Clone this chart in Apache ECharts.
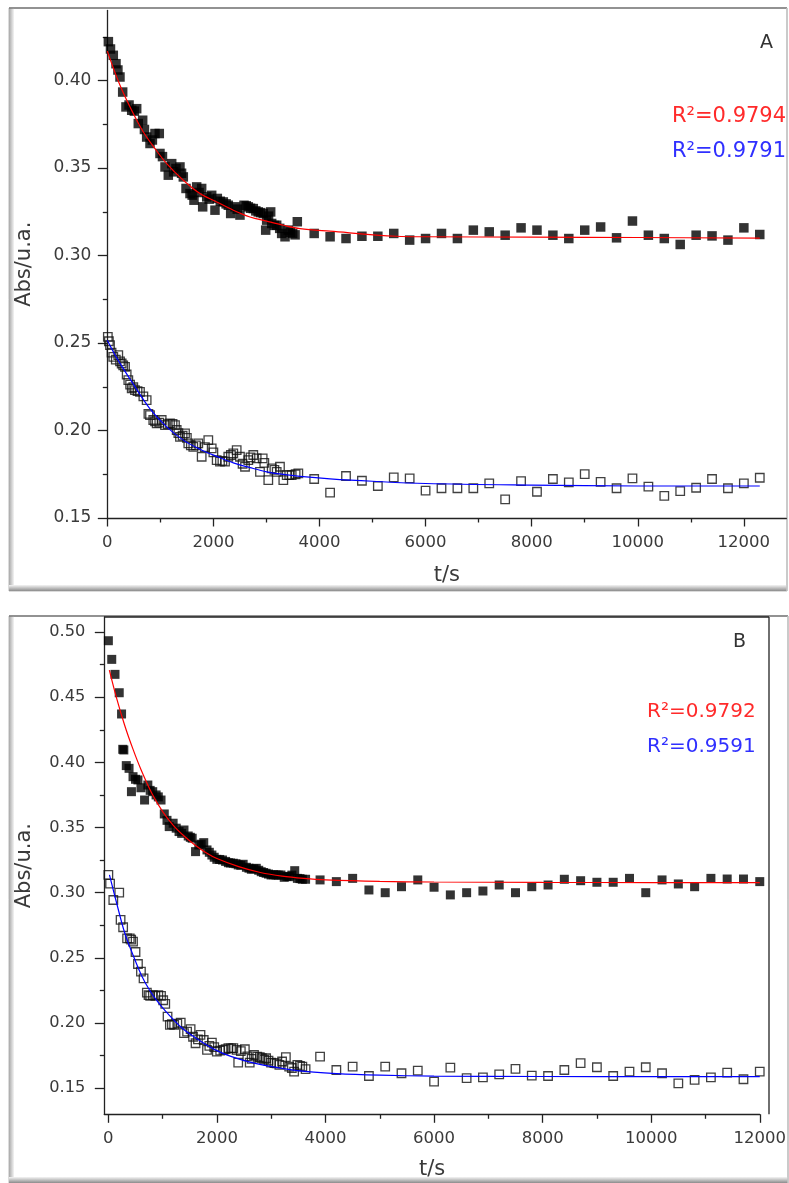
<!DOCTYPE html>
<html>
<head>
<meta charset="utf-8">
<script src="https://cdn.jsdelivr.net/npm/echarts@6/dist/echarts.min.js"></script>
<style>
  html, body { margin: 0; padding: 0; background: #ffffff; }
  #chart { width: 789px; height: 1183px; }
</style>
</head>
<body>
<div id="chart"></div>
<script>
// ---- Panel A: measured absorbance (filled / open squares) and fitted decays ----
const fillT_A = [20,60,113,164,200,239,290,352,410,460,510,554,584,667,700,742,805,850,899,980,993,1040,1088,1150,1214,1250,1295,1370,1400,1433,1484,1559,1600,1634,1685,1730,1779,1798,1874,1920,1968,2030,2074,2130,2187,2240,2281,2326,2407,2450,2501,2577,2620,2658,2700,2752,2800,2846,2890,2941,2986,3004,3040,3080,3099,3150,3193,3250,3287,3350,3412,3450,3495,3540,3582,3900,4200,4500,4800,5100,5400,5700,6000,6300,6600,6900,7200,7500,7800,8100,8400,8700,9000,9300,9600,9900,10200,10500,10800,11100,11400,11700,12000,12300];
const fillAbs_A = [0.4222,0.418,0.4144,0.4096,0.406,0.402,0.3934,0.3849,0.386,0.383,0.3825,0.3839,0.3754,0.3773,0.372,0.3677,0.364,0.366,0.3697,0.3697,0.3583,0.3565,0.3506,0.3459,0.3525,0.3478,0.3497,0.3506,0.347,0.3449,0.3383,0.3354,0.3345,0.3316,0.3392,0.336,0.3383,0.3278,0.3335,0.3322,0.3344,0.3259,0.3326,0.331,0.3306,0.3295,0.3287,0.324,0.3278,0.3265,0.3231,0.3287,0.3284,0.3278,0.327,0.3268,0.3255,0.3249,0.3245,0.324,0.3145,0.3202,0.3225,0.3249,0.3183,0.3172,0.3173,0.3155,0.3126,0.3107,0.3145,0.3133,0.3126,0.3118,0.3193,0.3126,0.3107,0.3097,0.311,0.311,0.3126,0.3088,0.3097,0.3126,0.3097,0.3145,0.3135,0.3116,0.3158,0.3145,0.3116,0.3097,0.3145,0.3163,0.3101,0.3197,0.3116,0.3097,0.3063,0.3116,0.3112,0.3088,0.3158,0.312];
const openT_A = [10,30,51,80,113,160,207,240,271,300,334,365,396,430,460,490,522,570,616,680,742,775,805,867,900,931,980,1025,1088,1140,1182,1230,1276,1308,1340,1370,1420,1465,1500,1527,1575,1621,1670,1715,1779,1840,1904,1968,2000,2062,2124,2170,2219,2281,2330,2375,2439,2501,2550,2596,2658,2700,2752,2816,2878,2929,2960,3035,3099,3150,3193,3255,3318,3382,3430,3476,3550,3601,3900,4200,4500,4800,5100,5400,5700,6000,6300,6600,6900,7200,7500,7800,8100,8400,8700,9000,9300,9600,9900,10200,10500,10800,11100,11400,11700,12000,12300];
const openAbs_A = [0.2535,0.251,0.2488,0.2445,0.2421,0.2405,0.2431,0.2395,0.2383,0.2372,0.2364,0.232,0.2288,0.2262,0.2241,0.2248,0.2231,0.2225,0.2221,0.2195,0.2174,0.2095,0.2088,0.206,0.2052,0.2041,0.2045,0.206,0.2031,0.2036,0.2041,0.2038,0.2031,0.2003,0.1985,0.1964,0.197,0.1984,0.1958,0.1927,0.1915,0.1907,0.1915,0.1927,0.185,0.1905,0.1945,0.1898,0.1875,0.1831,0.1822,0.1826,0.1822,0.185,0.186,0.1869,0.1888,0.185,0.181,0.1793,0.1831,0.1846,0.186,0.1841,0.1764,0.1841,0.1815,0.1717,0.1784,0.1775,0.1764,0.1793,0.1717,0.1745,0.1745,0.1745,0.175,0.1755,0.1723,0.1645,0.174,0.1713,0.1683,0.1732,0.1727,0.1656,0.167,0.167,0.167,0.1698,0.1607,0.1711,0.165,0.1723,0.1704,0.1751,0.1707,0.167,0.1727,0.1679,0.1627,0.1654,0.1673,0.1723,0.167,0.1698,0.173];
const fitRedT_A = [0,239,490,679,899,1120,1433,1747,2062,2375,2690,3004,3318,3632,4198,5450,6000,8000,10000,12300];
const fitRedAbs_A = [0.4168,0.3973,0.3811,0.3706,0.3611,0.3525,0.343,0.3354,0.3306,0.3259,0.322,0.3196,0.3173,0.3154,0.3139,0.311,0.3107,0.3105,0.3103,0.3099];
const fitBlueT_A = [0,177,490,805,1120,1433,1747,2062,2375,2690,3004,3318,3632,4198,5000,6000,8000,10000,12300];
const fitBlueAbs_A = [0.2516,0.2415,0.2265,0.2124,0.2021,0.1945,0.1893,0.1852,0.1815,0.1788,0.1764,0.1749,0.1738,0.1724,0.171,0.1697,0.1688,0.1683,0.1683];

// ---- Panel B ----
const fillT_B = [0,62,122,200,243,265,285,330,381,425,454,500,545,600,667,727,770,817,879,920,970,1030,1080,1121,1193,1250,1302,1350,1393,1471,1510,1544,1606,1666,1710,1757,1817,1860,1907,1950,1998,2050,2102,2160,2211,2250,2302,2350,2392,2440,2483,2543,2590,2634,2680,2725,2770,2816,2860,2906,2950,2997,3040,3088,3130,3179,3240,3290,3331,3380,3433,3482,3530,3573,3633,3900,4200,4500,4800,5100,5400,5700,6000,6300,6600,6900,7200,7500,7800,8100,8400,8700,9000,9300,9600,9900,10200,10500,10800,11100,11400,11700,12000];
const fillAbs_B = [0.4933,0.479,0.4675,0.4534,0.4371,0.41,0.4095,0.3975,0.3954,0.3775,0.389,0.387,0.3865,0.3805,0.3711,0.3826,0.3785,0.3775,0.375,0.3735,0.3711,0.3604,0.3555,0.3507,0.3533,0.3495,0.3469,0.3455,0.3481,0.3435,0.3425,0.3418,0.3315,0.3366,0.3372,0.3384,0.3328,0.331,0.3289,0.3272,0.3256,0.3255,0.3251,0.324,0.323,0.3228,0.3226,0.3222,0.3213,0.321,0.3218,0.3195,0.3188,0.318,0.3183,0.3187,0.3172,0.3161,0.3155,0.3149,0.3143,0.3136,0.3138,0.3136,0.3135,0.3136,0.3118,0.3125,0.3123,0.3135,0.3169,0.311,0.3108,0.3103,0.3103,0.3098,0.3085,0.311,0.3021,0.3,0.3046,0.3098,0.3042,0.2983,0.3,0.3013,0.3059,0.3,0.3046,0.3059,0.3103,0.3092,0.308,0.308,0.311,0.3,0.3098,0.3067,0.3046,0.311,0.3105,0.3105,0.3085];
const openT_B = [0,31,91,200,225,272,345,394,420,454,500,545,600,648,709,740,770,820,866,920,970,1010,1048,1090,1133,1170,1212,1270,1333,1393,1450,1515,1560,1606,1650,1697,1757,1817,1860,1907,1950,1998,2060,2120,2160,2211,2260,2302,2362,2392,2440,2514,2560,2604,2640,2683,2743,2790,2828,2870,2906,2950,2997,3059,3100,3150,3200,3270,3331,3380,3422,3482,3530,3573,3633,3900,4200,4500,4800,5100,5400,5700,6000,6300,6600,6900,7200,7500,7800,8100,8400,8700,9000,9300,9600,9900,10200,10500,10800,11100,11400,11700,12000];
const openAbs_B = [0.3136,0.307,0.2944,0.3,0.2791,0.2735,0.265,0.265,0.264,0.2625,0.2545,0.2453,0.2395,0.2343,0.2233,0.2215,0.2208,0.2215,0.2208,0.2215,0.2208,0.2175,0.2147,0.2049,0.1986,0.1992,0.1986,0.1995,0.2003,0.1922,0.1935,0.1953,0.1895,0.1845,0.1875,0.1909,0.187,0.1794,0.1825,0.185,0.1815,0.1781,0.1788,0.1794,0.18,0.1807,0.1805,0.1807,0.1794,0.1696,0.1785,0.1799,0.1745,0.1696,0.1725,0.1755,0.1743,0.1738,0.173,0.172,0.173,0.1712,0.1696,0.1692,0.169,0.1679,0.1705,0.1738,0.1666,0.1655,0.1627,0.1679,0.1672,0.1666,0.1646,0.1743,0.164,0.1666,0.1594,0.1666,0.1615,0.1635,0.1551,0.1658,0.1577,0.1584,0.1607,0.1648,0.1597,0.1594,0.164,0.1692,0.1661,0.1594,0.1627,0.1661,0.1615,0.1538,0.1564,0.1584,0.162,0.1569,0.1627];
const fitRedT_B = [18,150,300,450,600,800,1000,1200,1400,1600,1800,2000,2400,2800,3200,3600,4000,5000,6000,8000,10000,12000];
const fitRedAbs_B = [0.4708,0.4495,0.4285,0.4105,0.3945,0.3763,0.3622,0.3515,0.3433,0.3364,0.3307,0.3262,0.32,0.3155,0.3127,0.311,0.3099,0.3087,0.3082,0.3079,0.3078,0.3078];
const fitBlueT_B = [20,153,303,454,606,757,908,1061,1362,1666,1969,2271,2574,2877,3482,4209,5000,6000,8000,10000,12000];
const fitBlueAbs_B = [0.3136,0.2919,0.2689,0.2522,0.2369,0.2254,0.2164,0.2088,0.196,0.187,0.1794,0.1742,0.1704,0.1676,0.1635,0.1612,0.16,0.1593,0.159,0.1589,0.1589];

// ---- Tick values and annotations ----
const timeTicks = [0,2000,4000,6000,8000,10000,12000];
const timeMinor = [1000,3000,5000,7000,9000,11000];
const absTicks_A = [0.15,0.20,0.25,0.30,0.35,0.40];
const absMinor_A = [0.175,0.225,0.275,0.325,0.375,0.425];
const absTicks_B = [0.15,0.20,0.25,0.30,0.35,0.40,0.45,0.50];
const absMinor_B = [0.175,0.225,0.275,0.325,0.375,0.425,0.475];
const r2Red = ['R²=0.9794', 'R²=0.9792'];
const r2Blue = ['R²=0.9791', 'R²=0.9591'];
const panelTags = ['A', 'B'];

const pts = (xs, ys) => xs.map((x, i) => [x, ys[i]]);

const FONT = '"DejaVu Sans", "Liberation Sans", sans-serif';
const AXIS_COLOR = '#222';
const LABEL_COLOR = '#3a3a3a';

function majorX(gridIndex, min, max, labelSize, nameGap) {
  return {
    type: 'value', gridIndex, min, max, position: 'bottom',
    name: 't/s', nameLocation: 'middle', nameGap,
    nameTextStyle: { fontFamily: FONT, fontSize: 21, color: LABEL_COLOR },
    axisLine: { show: true, onZero: false, lineStyle: { color: AXIS_COLOR, width: 1.3 } },
    axisTick: { show: true, inside: false, length: 8.5, customValues: timeTicks, lineStyle: { color: AXIS_COLOR, width: 1.3 } },
    axisLabel: { show: true, customValues: timeTicks, margin: 16, fontFamily: FONT, fontSize: labelSize, color: LABEL_COLOR,
                 formatter: v => String(v) },
    splitLine: { show: false }
  };
}
function minorX(gridIndex, min, max) {
  return {
    type: 'value', gridIndex, min, max, position: 'bottom', offset: 0,
    axisLine: { show: false, onZero: false },
    axisTick: { show: true, inside: false, length: 4.5, customValues: timeMinor, lineStyle: { color: AXIS_COLOR, width: 1.3 } },
    axisLabel: { show: false },
    splitLine: { show: false }
  };
}
function majorY(gridIndex, min, max, ticks, labelSize, margin, nameGap) {
  return {
    type: 'value', gridIndex, min, max, position: 'left',
    name: 'Abs/u.a.', nameLocation: 'middle', nameGap,
    nameTextStyle: { fontFamily: FONT, fontSize: 21, color: LABEL_COLOR },
    axisLine: { show: true, onZero: false, lineStyle: { color: AXIS_COLOR, width: 1.3 } },
    axisTick: { show: true, inside: false, length: 9.5, customValues: ticks, lineStyle: { color: AXIS_COLOR, width: 1.3 } },
    axisLabel: { show: true, customValues: ticks, margin, fontFamily: FONT, fontSize: labelSize, color: LABEL_COLOR,
                 formatter: v => v.toFixed(2) },
    splitLine: { show: false }
  };
}
function minorY(gridIndex, min, max, ticks) {
  return {
    type: 'value', gridIndex, min, max, position: 'left', offset: 0,
    axisLine: { show: false, onZero: false },
    axisTick: { show: true, inside: false, length: 4.5, customValues: ticks, lineStyle: { color: AXIS_COLOR, width: 1.3 } },
    axisLabel: { show: false },
    splitLine: { show: false }
  };
}

function filledSquares(xi, yi, data, size) {
  return { type: 'scatter', xAxisIndex: xi, yAxisIndex: yi, data, symbol: 'rect', symbolSize: size,
           itemStyle: { color: '#000' }, z: 3, silent: true };
}
function openSquares(xi, yi, data, size) {
  return { type: 'scatter', xAxisIndex: xi, yAxisIndex: yi, data, symbol: 'rect', symbolSize: size,
           itemStyle: { color: 'rgba(255,255,255,0)', borderColor: '#111', borderWidth: 1.3 }, z: 3, silent: true };
}
function fitLine(xi, yi, data, color) {
  return { type: 'line', xAxisIndex: xi, yAxisIndex: yi, data, showSymbol: false, symbol: 'none',
           smooth: 0.35, lineStyle: { color, width: 1.2 }, z: 4, silent: true };
}

// Panel frames with a bevelled edge
function frame(x1, y1, x2, y2) {
  return [
    { type: 'rect', z: -5, shape: { x: x1, y: y1, width: x2 - x1, height: y2 - y1 },
      style: { fill: '#fff', stroke: '#b8b8b8', lineWidth: 1 } },
    { type: 'rect', z: -4, shape: { x: x1, y: y1, width: 5, height: y2 - y1 },
      style: { fill: { type: 'linear', x: 0, y: 0, x2: 1, y2: 0,
        colorStops: [{ offset: 0, color: '#a8a8a8' }, { offset: 1, color: '#f4f4f4' }] } } },
    { type: 'rect', z: -4, shape: { x: x1, y: y2 - 6, width: x2 - x1, height: 6 },
      style: { fill: { type: 'linear', x: 0, y: 0, x2: 0, y2: 1,
        colorStops: [{ offset: 0, color: '#f4f4f4' }, { offset: 1, color: '#8c8c8c' }] } } },
    { type: 'line', z: -3, shape: { x1: x1, y1: y1, x2: x2, y2: y1 }, style: { stroke: '#7a7a7a', lineWidth: 1.5 } },
    { type: 'line', z: -3, shape: { x1: x2, y1: y1, x2: x2, y2: y2 }, style: { stroke: '#c4c4c4', lineWidth: 1.5 } }
  ];
}
function label(text, x, y, size, color) {
  return { type: 'text', z: 50, style: { text, x, y, fill: color, font: size + 'px ' + FONT, textVerticalAlign: 'middle' } };
}

const chart = echarts.init(document.getElementById('chart'), null, { renderer: 'canvas' });
chart.setOption({
  animation: false,
  backgroundColor: '#ffffff',
  grid: [
    { left: 107.3, top: 10.5, width: 679, height: 507.5 },
    { left: 104.3, top: 617, width: 664.7, height: 497.3 }
  ],
  xAxis: [
    majorX(0, 0, 12800, 16.5, 47),
    minorX(0, 0, 12800),
    majorX(1, -75, 12000, 16.5, 45),
    minorX(1, -75, 12000)
  ],
  yAxis: [
    majorY(0, 0.15, 0.44, absTicks_A, 17, 16, 72),
    minorY(0, 0.15, 0.44, absMinor_A),
    majorY(1, 0.13, 0.5115, absTicks_B, 16.2, 19, 69),
    minorY(1, 0.13, 0.5115, absMinor_B)
  ],
  series: [
    filledSquares(0, 0, pts(fillT_A, fillAbs_A), 9.5),
    openSquares(0, 0, pts(openT_A, openAbs_A), 8.5),
    fitLine(0, 0, pts(fitRedT_A, fitRedAbs_A), '#ff0000'),
    fitLine(0, 0, pts(fitBlueT_A, fitBlueAbs_A), '#0000ff'),
    filledSquares(2, 2, pts(fillT_B, fillAbs_B), 9),
    openSquares(2, 2, pts(openT_B, openAbs_B), 8.5),
    fitLine(2, 2, pts(fitRedT_B, fitRedAbs_B), '#ff0000'),
    fitLine(2, 2, pts(fitBlueT_B, fitBlueAbs_B), '#0000ff')
  ],
  graphic: [
    ...frame(9, 8, 787, 591),
    ...frame(9, 616, 788, 1183),
    // plot box of panel B: top and right edges, and blank margin right of it
    { type: 'rect', z: 40, shape: { x: 770, y: 617, width: 16, height: 496 }, style: { fill: '#fff' } },
    { type: 'line', z: 41, shape: { x1: 104.3, y1: 617, x2: 769, y2: 617 }, style: { stroke: AXIS_COLOR, lineWidth: 1.3 } },
    { type: 'line', z: 41, shape: { x1: 769, y1: 617, x2: 769, y2: 1114.3 }, style: { stroke: AXIS_COLOR, lineWidth: 1.3 } },
    label(panelTags[0], 760, 43, 19, '#333'),
    label(r2Red[0], 672, 117, 21, '#ff2a2a'),
    label(r2Blue[0], 672, 152, 21, '#3030ff'),
    label(panelTags[1], 733, 642, 19, '#333'),
    label(r2Red[1], 647, 712, 20, '#ff2a2a'),
    label(r2Blue[1], 647, 747, 20, '#3030ff')
  ]
});
</script>
</body>
</html>
